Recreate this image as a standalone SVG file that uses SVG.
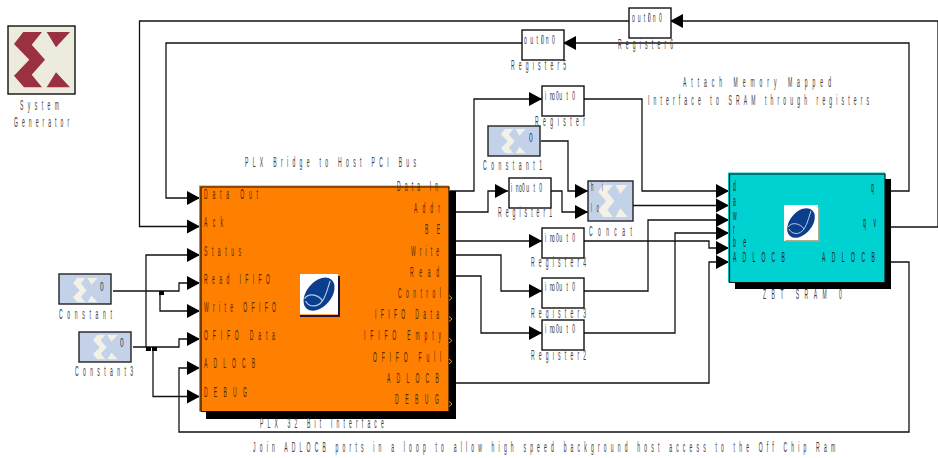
<svg xmlns="http://www.w3.org/2000/svg" xmlns:xlink="http://www.w3.org/1999/xlink" width="938" height="458" viewBox="0 0 938 458">
<style>
text{font-family:"Liberation Sans",Arial,sans-serif;font-size:14px;fill:#3c3c3c;opacity:.99}
.p{fill:#4a2c00}
.k{fill:#222}
.s{font-size:12px;fill:#333}
.blk{fill:#fff;stroke:#111;stroke-width:1.4}
.cst{fill:#c3d2e8;stroke:#222;stroke-width:1.4}
.w{fill:none;stroke:#111;stroke-width:1.3}
.a{marker-end:url(#ah)}
.tick{fill:none;stroke:#e89a20;stroke-width:1}
</style>
<defs>
<marker id="ah" markerUnits="userSpaceOnUse" markerWidth="15" markerHeight="15" refX="13" refY="7.500" orient="auto" overflow="visible"><path d="M0 0.500L13 7.500L0 14.500Z" fill="#000"/></marker>
<g id="x"><path d="M9.3 0H28L17.7 12.7L31 27.7L17.7 42.7L28 55.3H10L0 43.7L15.3 27.7L0 12ZM32.7 0H56L42 15.3ZM42 40.3L56 55.3H32.7Z"/></g>
<g id="logo"><rect x="0" y="0" width="34" height="36" fill="#fff"/><ellipse cx="17" cy="18" rx="11" ry="17" transform="rotate(40 17 18)" fill="#0b3f8e"/><path d="M4 22C8 16 17 19 20 24C16 30 8 30 5 24M20 24C24 18 25 11 27 6" fill="none" stroke="#b8cbe4" stroke-width="1"/></g>
</defs>

<g id="connectors">
<path class="w a" d="M629 21H139.500V226.500H200"/>
<path class="w a" d="M522 43H166V198H200"/>
<path class="w a" d="M886 191H909V43H563"/>
<path class="w a" d="M886 227H938V21H670"/>
<path class="w a" d="M886 262H909V432H179V368H200"/>
<path class="w a" d="M456 383H709V262H729"/>
<path class="w a" d="M113 291H179V283H200"/>
<path class="w a" d="M160 291V311H200"/>
<path class="w a" d="M133 347H179V339H200"/>
<path class="w a" d="M146 347V255H200"/>
<path class="w a" d="M153 347V396.500H200"/>
<rect x="159" y="291" width="5" height="4" fill="#000"/>
<rect x="146" y="347" width="5" height="4" fill="#000"/>
<rect x="152" y="347" width="5" height="4" fill="#000"/>
<path class="w a" d="M450 191H474V99H542"/>
<path class="w a" d="M450 212H488V191H508"/>
<path class="w a" d="M450 241H542"/>
<path class="w a" d="M450 255H501V291H542"/>
<path class="w a" d="M450 276H481V333H542"/>
<path class="w a" d="M584 99H642V191H729"/>
<path class="w a" d="M633 205.500H729"/>
<path class="w a" d="M584 241H709V248H729"/>
<path class="w a" d="M584 291H648V220H729"/>
<path class="w a" d="M584 333H675V233H729"/>
<path class="w a" d="M541 141H568V191H588"/>
<path class="w a" d="M551 191H562V212H588"/>
</g>

<g id="system-generator">
<rect x="8" y="26" width="67" height="68" fill="#ecebdd" stroke="#111" stroke-width="1.4"/>
<use xlink:href="#x" href="#x" x="14" y="32" fill="#9a3040"/>
<text transform="translate(20 110) scale(.36 1)" textLength="108">System</text>
<text transform="translate(14 127) scale(.36 1)" textLength="153">Generator</text>
</g>

<g id="constant">
<rect class="cst" x="59" y="274" width="52" height="30"/>
<use href="#x" transform="translate(73 278) scale(.44)" fill="#f4f1e6"/>
<text class="s" transform="translate(100 291) scale(.55 1)">0</text>
<text transform="translate(59 319) scale(.36 1)" textLength="147">Constant</text>
</g>
<g id="constant3">
<rect class="cst" x="79" y="332" width="52" height="30"/>
<use href="#x" transform="translate(93 335) scale(.44)" fill="#f4f1e6"/>
<text class="s" transform="translate(120 347) scale(.55 1)">0</text>
<text transform="translate(75 376) scale(.36 1)" textLength="161">Constant3</text>
</g>
<g id="constant1">
<rect class="cst" x="488" y="126" width="52" height="30"/>
<use href="#x" transform="translate(501 129) scale(.44)" fill="#f4f1e6"/>
<text class="s" transform="translate(529 142) scale(.55 1)">0</text>
<text transform="translate(483 170) scale(.36 1)" textLength="164">Constant1</text>
</g>

<g id="plx-interface">
<rect x="206" y="191" width="250" height="228" fill="#000"/>
<rect x="199" y="185.500" width="250" height="226" fill="#ff8000"/>
<path d="M201 411.500V187H449V411.500H201" fill="none" stroke="#111" stroke-width="1.2"/>
<use href="#logo" transform="translate(300 274) scale(1.12)"/>
<path d="M338 276h2v41h-40v-2h38z" fill="#1a1440"/>
<text class="p" transform="translate(204 199) scale(.36 1)" textLength="150">Data Out</text>
<text class="p" transform="translate(204 226.500) scale(.36 1)" textLength="53">Ack</text>
<text class="p" transform="translate(204 256) scale(.36 1)" textLength="103">Status</text>
<text class="p" transform="translate(204 284) scale(.36 1)" textLength="183">Read IFIFO</text>
<text class="p" transform="translate(204 312) scale(.36 1)" textLength="200">Write OFIFO</text>
<text class="p" transform="translate(204 340) scale(.36 1)" textLength="197">OFIFO Data</text>
<text class="p" transform="translate(204 368) scale(.36 1)" textLength="142">ADLOCB</text>
<text class="p" transform="translate(204 397) scale(.36 1)" textLength="119">DEBUG</text>
<text class="p" transform="translate(397 191) scale(.36 1)" textLength="114">Data In</text>
<text class="p" transform="translate(414 213) scale(.36 1)" textLength="72">Addr</text>
<text class="p" transform="translate(425 234) scale(.36 1)" textLength="42">BE</text>
<text class="p" transform="translate(411 256) scale(.36 1)" textLength="78">Write</text>
<text class="p" transform="translate(410 277) scale(.36 1)" textLength="81">Read</text>
<text class="p" transform="translate(398 298) scale(.36 1)" textLength="119">Control</text>
<text class="p" transform="translate(375 319) scale(.36 1)" textLength="178">IFIFO Data</text>
<text class="p" transform="translate(364 340) scale(.36 1)" textLength="214">IFIFO Empty</text>
<text class="p" transform="translate(373 362) scale(.36 1)" textLength="189">OFIFO Full</text>
<text class="p" transform="translate(387 383) scale(.36 1)" textLength="144">ADLOCB</text>
<text class="p" transform="translate(395 404) scale(.36 1)" textLength="122">DEBUG</text>
<path class="tick" d="M449 295.500l3 2.500l-3 2.500M449 316.500l3 2.500l-3 2.500M449 338l3 2.500l-3 2.500M449 359l3 2.500l-3 2.500M449 401.500l3 2.500l-3 2.500"/>
<text transform="translate(245 167) scale(.36 1)" textLength="475">PLX Bridge to Host PCI Bus</text>
<text transform="translate(260 428) scale(.36 1)" textLength="344">PLX 32 Bit Interface</text>
</g>

<g id="register6">
<rect class="blk" x="629" y="8" width="42" height="30"/>
<text class="s" transform="translate(632 22) scale(.42 1)" textLength="45">out0</text>
<text class="s" transform="translate(648 22) scale(.42 1)" textLength="33">in0</text>
<text transform="translate(618 49) scale(.36 1)" textLength="153">Register6</text>
</g>
<g id="register5">
<rect class="blk" x="522" y="30" width="42" height="30"/>
<text class="s" transform="translate(524 44) scale(.42 1)" textLength="48">out0</text>
<text class="s" transform="translate(541 44) scale(.42 1)" textLength="33">in0</text>
<text transform="translate(511 70) scale(.36 1)" textLength="153">Register5</text>
</g>
<g id="register">
<rect class="blk" x="542" y="86" width="42" height="30"/>
<text class="s" transform="translate(545 100) scale(.42 1)" textLength="33">in0</text>
<text class="s" transform="translate(552 100) scale(.42 1)" textLength="55">out0</text>
<text transform="translate(535 126) scale(.36 1)" textLength="139">Register</text>
</g>
<g id="register1">
<rect class="blk" x="509" y="178" width="42" height="30"/>
<text class="s" transform="translate(511 192) scale(.42 1)" textLength="33">in0</text>
<text class="s" transform="translate(519 192) scale(.42 1)" textLength="55">out0</text>
<text transform="translate(498 217) scale(.36 1)" textLength="150">Register1</text>
</g>
<g id="register4">
<rect class="blk" x="542" y="228" width="42" height="30"/>
<text class="s" transform="translate(545 242) scale(.42 1)" textLength="33">in0</text>
<text class="s" transform="translate(552 242) scale(.42 1)" textLength="55">out0</text>
<text transform="translate(531 267) scale(.36 1)" textLength="153">Register4</text>
</g>
<g id="register3">
<rect class="blk" x="542" y="278" width="42" height="30"/>
<text class="s" transform="translate(545 291) scale(.42 1)" textLength="33">in0</text>
<text class="s" transform="translate(552 291) scale(.42 1)" textLength="55">out0</text>
<text transform="translate(531 318) scale(.36 1)" textLength="153">Register3</text>
</g>
<g id="register2">
<rect class="blk" x="542" y="320" width="42" height="30"/>
<text class="s" transform="translate(545 333) scale(.42 1)" textLength="33">in0</text>
<text class="s" transform="translate(552 333) scale(.42 1)" textLength="55">out0</text>
<text transform="translate(531 360) scale(.36 1)" textLength="153">Register2</text>
</g>

<g id="concat">
<rect class="cst" x="588" y="181" width="45" height="40"/>
<use href="#x" transform="translate(598 185) scale(.53 .58)" fill="#f4f1e6"/>
<text class="s" transform="translate(591 191) scale(.36 1)" textLength="33">hi</text>
<text class="s" transform="translate(591 212) scale(.36 1)" textLength="22">lo</text>
<text transform="translate(589 236) scale(.36 1)" textLength="119">Concat</text>
</g>

<g id="zbt-sram">
<rect x="735" y="179" width="156" height="110" fill="#000"/>
<rect x="728" y="172.500" width="157" height="110" fill="#00d2d2"/>
<path d="M729.500 282.500V174H885V282.500H729.500" fill="none" stroke="#111" stroke-width="1.2"/>
<use href="#logo" transform="translate(784 205)"/>
<path d="M818 207h1.500v34.500h-34v-1.500h32.500z" fill="#a8b090"/>
<text class="k" transform="translate(733 191) scale(.36 1)">d</text>
<text class="k" transform="translate(733 206) scale(.36 1)">a</text>
<text class="k" transform="translate(733 220) scale(.36 1)">w</text>
<text class="k" transform="translate(733 234) scale(.36 1)">r</text>
<text class="k" transform="translate(733 247) scale(.36 1)" textLength="36">be</text>
<text class="k" transform="translate(733 262) scale(.36 1)" textLength="144">ADLOCB</text>
<text class="k" transform="translate(871 192) scale(.36 1)">q</text>
<text class="k" transform="translate(863 227) scale(.36 1)" textLength="36">qv</text>
<text class="k" transform="translate(822 262) scale(.36 1)" textLength="147">ADLOCB</text>
<text transform="translate(763 299) scale(.36 1)" textLength="219">ZBT SRAM 0</text>
</g>

<g id="annotations">
<text transform="translate(683 87) scale(.36 1)" textLength="411">Attach Memory Mapped</text>
<text transform="translate(648 105) scale(.36 1)" textLength="614">Interface to SRAM through registers</text>
<text transform="translate(253 452) scale(.36 1)" textLength="1617">Join ADLOCB ports in a loop to allow high speed background host access to the Off Chip Ram</text>
</g>
</svg>
